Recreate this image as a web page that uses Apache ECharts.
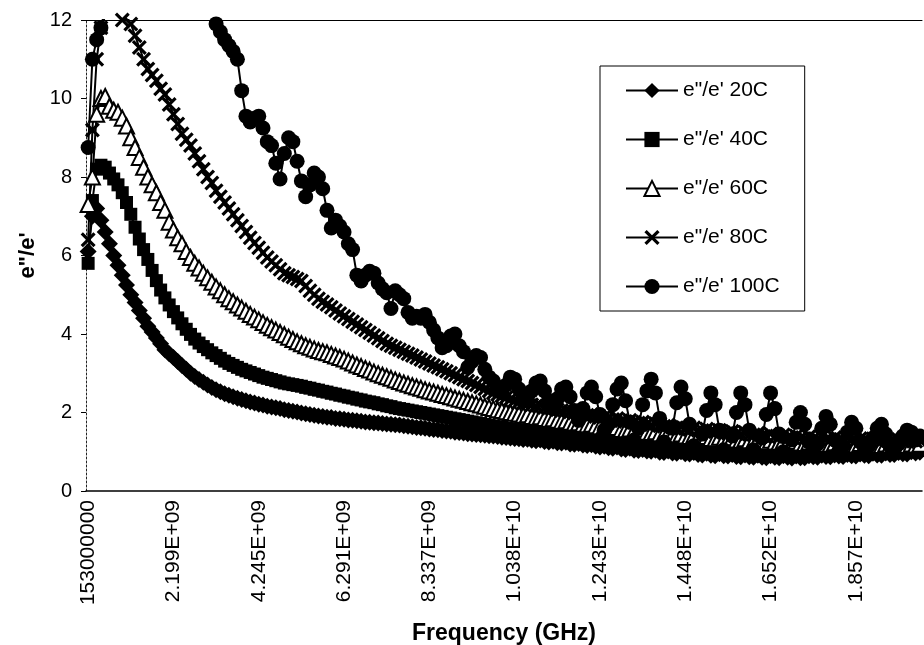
<!DOCTYPE html>
<html><head><meta charset="utf-8">
<script src="https://cdn.jsdelivr.net/npm/echarts@6/dist/echarts.min.js"></script>
<style>html,body{margin:0;padding:0;background:#fff}#c{width:924px;height:645px}</style>
</head><body><div id="c"></div>
<script>
// Frequency sweep (Hz): start and step of the measured points
const freqStartHz = 153000000;
const freqStepHz = 102300000;
const tickLabels = ['153000000','2.199E+09','4.245E+09','6.291E+09','8.337E+09','1.038E+10','1.243E+10','1.448E+10','1.652E+10','1.857E+10'];
const seriesNames = ['e"/e\' 20C','e"/e\' 40C','e"/e\' 60C','e"/e\' 80C','e"/e\' 100C'];

const e20 = [
6.1,7.0,7.2,6.9,6.6,6.3,6.0,5.75,5.5,5.25,
5.0,4.8,4.6,4.4,4.2,4.05,3.9,3.75,3.6,3.5,
3.4,3.3,3.2,3.1,3.0,2.92,2.84,2.77,2.7,2.64,
2.58,2.53,2.48,2.44,2.4,2.36,2.33,2.3,2.27,2.24,
2.21,2.19,2.16,2.14,2.12,2.1,2.07,2.05,2.03,2.01,
1.99,1.97,1.95,1.93,1.91,1.9,1.88,1.87,1.85,1.84,
1.83,1.81,1.8,1.79,1.78,1.76,1.75,1.74,1.73,1.72,
1.71,1.7,1.69,1.68,1.66,1.65,1.64,1.62,1.61,1.6,
1.58,1.57,1.56,1.54,1.53,1.52,1.5,1.49,1.48,1.46,
1.45,1.44,1.43,1.42,1.41,1.4,1.39,1.37,1.36,1.35,
1.34,1.33,1.31,1.32,1.29,1.28,1.3,1.26,1.25,1.27,
1.23,1.22,1.24,1.2,1.19,1.21,1.17,1.16,1.18,1.14,
1.12,1.14,1.1,1.09,1.12,1.07,1.06,1.09,1.04,1.03,
1.06,1.02,1.01,1.04,0.99,0.98,1.02,0.97,0.96,1.0,
0.95,0.94,0.98,0.93,0.92,0.96,0.91,0.9,0.95,0.9,
0.89,0.93,0.88,0.87,0.92,0.87,0.86,0.91,0.86,0.85,
0.9,0.86,0.85,0.9,0.86,0.84,0.89,0.85,0.85,0.9,
0.87,0.86,0.91,0.88,0.87,0.92,0.89,0.88,0.93,0.9,
0.89,0.94,0.91,0.9,0.96,0.92,0.91,0.97,0.93,0.93,
0.98,0.95,0.94,1.0,0.97,0.99];

const e40 = [
5.8,7.4,8.2,8.3,8.25,8.1,7.95,7.8,7.6,7.35,
7.05,6.72,6.42,6.15,5.9,5.62,5.36,5.12,4.92,4.74,
4.57,4.41,4.26,4.12,3.99,3.87,3.77,3.68,3.6,3.52,
3.45,3.38,3.31,3.25,3.2,3.15,3.1,3.06,3.02,2.98,
2.94,2.9,2.87,2.84,2.81,2.78,2.75,2.73,2.71,2.69,
2.67,2.64,2.62,2.59,2.57,2.54,2.52,2.49,2.47,2.44,
2.42,2.39,2.37,2.34,2.32,2.29,2.27,2.25,2.22,2.2,
2.17,2.15,2.12,2.1,2.08,2.06,2.04,2.02,2.0,1.98,
1.96,1.94,1.92,1.9,1.88,1.86,1.84,1.82,1.8,1.78,
1.76,1.74,1.72,1.7,1.68,1.66,1.64,1.62,1.6,1.59,
1.57,1.56,1.54,1.55,1.52,1.5,1.51,1.48,1.47,1.48,
1.45,1.44,1.45,1.42,1.41,1.42,1.39,1.38,1.39,1.36,
1.35,1.36,1.33,1.32,1.34,1.3,1.29,1.31,1.27,1.26,
1.28,1.25,1.24,1.26,1.22,1.21,1.24,1.2,1.19,1.22,
1.18,1.17,1.2,1.16,1.15,1.18,1.14,1.13,1.17,1.13,
1.12,1.15,1.11,1.1,1.14,1.1,1.09,1.13,1.09,1.08,
1.12,1.08,1.07,1.11,1.08,1.06,1.1,1.07,1.06,1.1,
1.07,1.06,1.1,1.07,1.06,1.1,1.07,1.06,1.1,1.07,
1.06,1.1,1.07,1.06,1.11,1.08,1.07,1.12,1.09,1.08,
1.13,1.1,1.09,1.14,1.11,1.13];

const e60 = [
7.3,8.0,9.6,10.0,10.05,9.8,9.7,9.65,9.5,9.3,
9.0,8.75,8.5,8.25,8.0,7.8,7.6,7.35,7.15,6.85,
6.65,6.45,6.3,6.1,5.95,5.8,5.68,5.55,5.43,5.32,
5.2,5.1,5.0,4.9,4.82,4.74,4.66,4.58,4.5,4.43,
4.36,4.29,4.22,4.16,4.1,4.04,3.98,3.92,3.86,3.8,
3.75,3.7,3.66,3.62,3.58,3.55,3.52,3.48,3.44,3.4,
3.36,3.31,3.26,3.21,3.17,3.12,3.08,3.03,2.99,2.95,
2.91,2.87,2.83,2.79,2.75,2.72,2.68,2.65,2.62,2.58,
2.55,2.52,2.49,2.46,2.43,2.4,2.37,2.34,2.31,2.28,
2.25,2.22,2.19,2.16,2.13,2.1,2.07,2.05,2.02,2.0,
1.98,1.96,1.93,1.94,1.9,1.88,1.89,1.85,1.83,1.84,
1.8,1.78,1.79,1.75,1.73,1.74,1.7,1.69,1.7,1.66,
1.64,1.65,1.61,1.6,1.62,1.57,1.56,1.58,1.54,1.52,
1.54,1.5,1.49,1.51,1.46,1.45,1.48,1.43,1.42,1.45,
1.4,1.39,1.42,1.37,1.36,1.39,1.34,1.33,1.37,1.32,
1.31,1.35,1.3,1.29,1.33,1.28,1.27,1.31,1.26,1.25,
1.29,1.25,1.24,1.28,1.23,1.22,1.26,1.22,1.21,1.25,
1.21,1.2,1.24,1.2,1.19,1.23,1.19,1.18,1.22,1.18,
1.17,1.21,1.17,1.16,1.2,1.17,1.16,1.2,1.17,1.16,
1.2,1.17,1.16,1.2,1.17,1.19];

const e80 = [
6.4,9.2,11.0,11.8,12.1,12.2,12.1,12.2,12.0,12.1,
11.9,11.6,11.3,11.0,10.75,10.6,10.45,10.25,10.1,9.85,
9.6,9.35,9.1,8.95,8.8,8.6,8.4,8.2,8.0,7.85,
7.65,7.5,7.35,7.2,7.05,6.9,6.75,6.6,6.45,6.32,
6.2,6.07,5.95,5.85,5.75,5.65,5.55,5.5,5.45,5.4,
5.35,5.22,5.1,5.0,4.9,4.82,4.75,4.68,4.6,4.52,
4.45,4.38,4.31,4.24,4.17,4.1,4.03,3.96,3.89,3.82,
3.75,3.7,3.65,3.6,3.55,3.5,3.45,3.4,3.35,3.3,
3.25,3.2,3.15,3.1,3.05,3.0,2.95,2.9,2.85,2.8,
2.75,2.7,2.65,2.6,2.55,2.5,2.46,2.42,2.38,2.34,
2.3,2.27,2.24,2.25,2.2,2.17,2.18,2.13,2.11,2.12,
2.07,2.05,2.06,2.01,1.99,2.0,1.95,1.93,1.95,1.9,
1.87,1.89,1.84,1.82,1.85,1.79,1.77,1.8,1.75,1.73,
1.76,1.71,1.69,1.72,1.66,1.65,1.68,1.62,1.61,1.64,
1.59,1.57,1.61,1.55,1.54,1.58,1.52,1.51,1.55,1.49,
1.48,1.52,1.46,1.45,1.5,1.44,1.43,1.47,1.41,1.4,
1.45,1.39,1.38,1.43,1.37,1.36,1.41,1.35,1.34,1.39,
1.34,1.33,1.38,1.32,1.31,1.36,1.31,1.3,1.35,1.3,
1.29,1.34,1.29,1.28,1.33,1.28,1.27,1.32,1.28,1.27,
1.31,1.27,1.26,1.31,1.27,1.29];

const e100 = [
8.75,11.0,11.5,11.8,12.3,12.8,13.3,13.8,14.2,14.5,
14.8,15.0,15.1,15.2,15.2,15.1,15.0,14.9,14.7,14.5,
14.3,14.1,13.9,13.6,13.4,13.1,12.9,12.6,12.4,12.1,
11.9,11.7,11.5,11.35,11.2,11.0,10.2,9.55,9.4,9.5,
9.55,9.25,8.9,8.8,8.35,7.95,8.6,9.0,8.9,8.4,
7.9,7.5,7.8,8.1,8.0,7.7,7.15,6.7,6.9,6.75,
6.6,6.3,6.15,5.5,5.35,5.5,5.6,5.55,5.3,5.15,
5.05,4.65,5.1,5.0,4.9,4.55,4.4,4.45,4.4,4.5,
4.3,4.1,3.9,3.65,3.7,3.95,4.0,3.7,3.55,3.15,
3.3,3.45,3.4,3.1,2.9,2.8,2.65,2.5,2.7,2.9,
2.85,2.6,2.4,2.3,2.55,2.75,2.8,2.55,2.3,2.1,
2.35,2.6,2.65,2.4,2.05,1.8,2.1,2.5,2.65,2.4,
1.95,1.55,1.7,2.2,2.6,2.75,2.3,1.75,1.3,1.6,
2.2,2.55,2.85,2.5,1.85,1.25,1.1,1.6,2.25,2.65,
2.35,1.7,1.15,1.0,1.45,2.05,2.5,2.2,1.55,1.05,
0.95,1.4,2.0,2.5,2.2,1.55,1.05,0.92,1.35,1.95,
2.5,2.1,1.45,1.0,0.92,1.3,1.75,2.0,1.7,1.25,
0.98,1.2,1.6,1.9,1.7,1.3,1.0,1.15,1.5,1.75,
1.6,1.25,1.02,1.15,1.35,1.6,1.7,1.45,1.15,1.05,
1.2,1.4,1.55,1.5,1.3,1.4];

const categories = e20.map((_, i) => freqStartHz + i * freqStepHz);
const LABEL_EVERY = 20;
const FONT = "'Liberation Sans', Arial, sans-serif";
const X_PATH = 'path://M0,1.5 L1.5,0 L5,3.5 L8.5,0 L10,1.5 L6.5,5 L10,8.5 L8.5,10 L5,6.5 L1.5,10 L0,8.5 L3.5,5 Z';

const styles = [
  {symbol: 'diamond', symbolSize: 17, itemStyle: {color: '#000'}},
  {symbol: 'rect', symbolSize: 13, itemStyle: {color: '#000'}},
  {symbol: 'triangle', symbolSize: 15, itemStyle: {color: '#fff', borderColor: '#000', borderWidth: 2}},
  {symbol: X_PATH, symbolSize: 15, itemStyle: {color: '#000'}},
  {symbol: 'circle', symbolSize: 15, itemStyle: {color: '#000'}}
];
const dataSets = [e20, e40, e60, e80, e100];

const chart = echarts.init(document.getElementById('c'), null, {renderer: 'canvas'});
chart.setOption({
  animation: false,
  backgroundColor: '#fff',
  textStyle: {fontFamily: FONT, color: '#000'},
  grid: {left: 86, right: 2, top: 20, bottom: 154, containLabel: false, outerBoundsMode: 'none'},
  legend: {
    orient: 'vertical', left: 600, top: 66,
    padding: [14, 25, 14, 25], itemGap: 28,
    itemWidth: 52, itemHeight: 19,
    borderColor: '#000', borderWidth: 1,
    textStyle: {fontFamily: FONT, fontSize: 21, color: '#000'},
    data: seriesNames
  },
  xAxis: [{
    type: 'category', data: categories, boundaryGap: true,
    axisLine: {lineStyle: {color: '#000', width: 1.5}},
    axisTick: {show: false},
    axisLabel: {
      interval: LABEL_EVERY - 1, rotate: 90, margin: 9,
      fontFamily: FONT, fontSize: 21, color: '#000',
      formatter: (v, i) => tickLabels[Math.round(i / LABEL_EVERY)] || ''
    },
    name: 'Frequency (GHz)', nameLocation: 'middle', nameGap: 131,
    nameTextStyle: {fontFamily: FONT, fontSize: 23, fontWeight: 'bold', color: '#000'}
  }, {
    type: 'category', data: categories, position: 'top',
    axisLine: {lineStyle: {color: '#000', width: 1}},
    axisTick: {show: false}, axisLabel: {show: false}
  }],
  yAxis: {
    type: 'value', min: 0, max: 12, interval: 2,
    axisLine: {show: true, lineStyle: {color: '#222', width: 1, type: [2, 2]}},
    axisTick: {show: true, length: 5, lineStyle: {color: '#000'}},
    splitLine: {show: false},
    axisLabel: {fontFamily: FONT, fontSize: 20, color: '#000', margin: 14},
    name: 'e"/e\'', nameLocation: 'middle', nameGap: 46,
    nameTextStyle: {fontFamily: FONT, fontSize: 22, fontWeight: 'bold', color: '#000'}
  },
  series: dataSets.map((d, i) => Object.assign({
    type: 'line', name: seriesNames[i], data: d, xAxisIndex: 0,
    showAllSymbol: true, clip: true,
    lineStyle: {color: '#000', width: 2},
    emphasis: {disabled: true}
  }, styles[i]))
});
</script>
</body></html>
